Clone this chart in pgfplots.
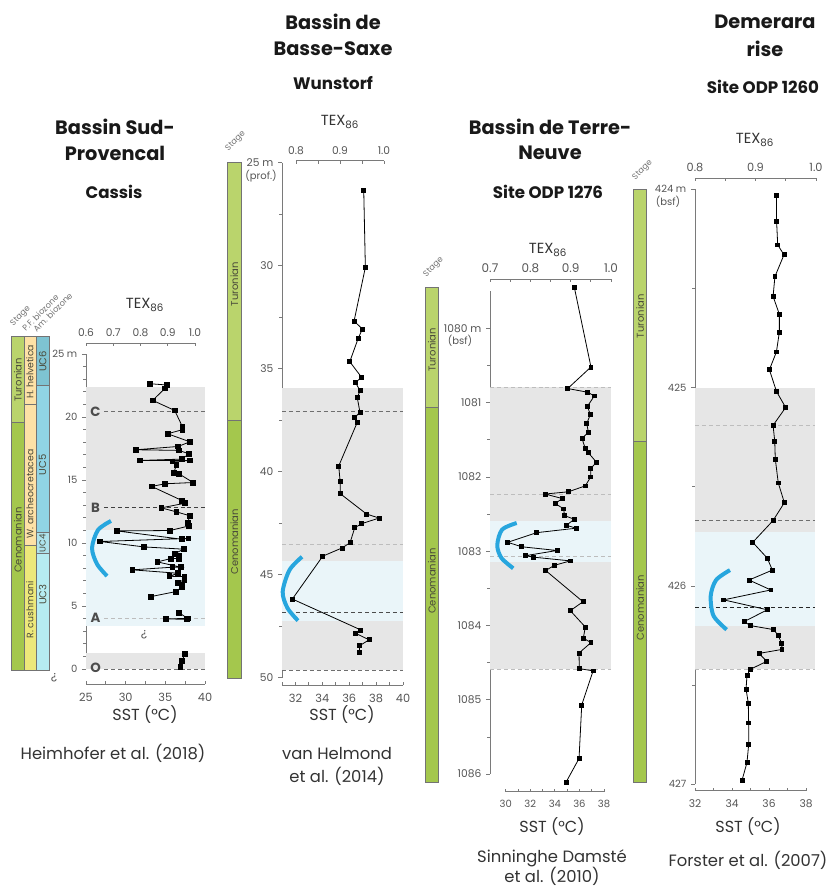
\documentclass[border=0pt]{standalone}
\usepackage{fontspec}
\setmainfont{Poppins}
\usepackage{pgfplots}
\pgfplotsset{compat=1.18}

\definecolor{gband}{HTML}{E6E6E6}
\definecolor{bband}{HTML}{EAF5F9}
\definecolor{arcblue}{HTML}{27A6DE}
\definecolor{turon}{HTML}{BAD46C}
\definecolor{cenom}{HTML}{A4C74D}
\definecolor{pfor}{HTML}{FDE1A6}
\definecolor{pfy}{HTML}{EDE87A}
\definecolor{ucsix}{HTML}{7EC3D2}
\definecolor{ucfive}{HTML}{90D4E4}
\definecolor{ucfour}{HTML}{AEE3EC}
\definecolor{ucthree}{HTML}{B6ECF1}
\definecolor{axgray}{HTML}{7A7A7A}
\definecolor{txgray}{HTML}{555555}
\definecolor{stagetx}{HTML}{4A4A3A}
\definecolor{dashdark}{HTML}{6E6E6E}
\definecolor{dashlight}{HTML}{BDBDBD}

\newcommand{\fs}[1]{\fontsize{#1pt}{#1pt}\selectfont}

\tikzset{
  stcol/.style={draw=black!55, line width=0.5pt},
  stlab/.style={rotate=90, text=stagetx, font=\fs{7.5}},
}
\pgfplotsset{
  base/.style={scale only axis, clip=false, anchor=north west,
    /pgf/number format/assume math mode=true,
    every tick/.append style={draw=axgray, line width=0.6pt},
    axis line style={draw=axgray, line width=0.75pt, -},
    ticklabel style={text=txgray}},
  dataax/.style={base, axis x line=none, axis y line*=left, tick align=outside,
    major tick length=3pt, minor tick length=2pt},
  texax/.style={base, axis y line=none, axis x line*=top, tick align=inside,
    major tick length=2.2pt, minor tick length=2.2pt, height=7.5pt, ymin=0, ymax=1,
    xticklabel style={yshift=1.5pt}},
  sstax/.style={base, anchor=south west, axis y line=none, axis x line*=bottom, tick align=inside,
    major tick length=2.2pt, minor tick length=2.2pt, height=7.5pt, ymin=0, ymax=1,
    xticklabel style={yshift=-3pt}},
  sdata/.style={black, line width=0.6pt, mark=square*, mark size=#1, mark options={solid, fill=black}},
  bluearc/.style={arcblue, line width=3pt, smooth, no marks},
}

\begin{document}
\begin{tikzpicture}
\useasboundingbox (0,0) rectangle (622.5pt,-666pt);

%================ Panel 1 : Cassis ================
\begin{axis}[dataax, at={(64.5pt,-265.5pt)}, width=89.25pt, height=236.25pt,
  xmin=25, xmax=40, ymin=0, ymax=25,
  ytick={0,5,10,15,20,25}, yticklabels={0,5,10,15,20,25 m},
  minor ytick={1,2,3,4,6,7,8,9,11,12,13,14,16,17,18,19,21,22,23,24},
  yticklabel style={font=\fs{7.5}}]
  % bands
  \fill[gband] (25,11.04) rectangle (40,22.4);
  \fill[bband] (25,3.42) rectangle (40,11.04);
  \fill[gband] (25,0) rectangle (40,1.25);
  % dashed levels
  \draw[dashdark, line width=0.7pt, dash pattern=on 3pt off 2.2pt] (27.3,20.4) -- (40,20.4);
  \draw[black!75, line width=0.7pt, dash pattern=on 3pt off 2.2pt] (27.3,12.8) -- (40,12.8);
  \draw[dashlight, line width=0.7pt, dash pattern=on 3pt off 2.2pt] (27.3,4.05) -- (40,4.05);
  \draw[dashdark, line width=0.7pt, dash pattern=on 3pt off 2.2pt] (27.3,0) -- (40,0);
  \node[font=\fs{10}\bfseries, text=black!70] at (26.2,20.4) {C};
  \node[font=\fs{10}\bfseries, text=black!70] at (26.2,12.8) {B};
  \node[font=\fs{10}\bfseries, text=black!70] at (26.2,4.05) {A};
  \node[font=\fs{10}\bfseries, text=black!70] at (26.2,0.1) {O};
  % stage columns
  \filldraw[stcol, fill=cenom] (15.63,-0.13) rectangle (17.18,19.55);
  \filldraw[stcol, fill=turon] (15.63,19.55) rectangle (17.18,26.37);
  \filldraw[stcol, fill=pfy] (17.18,-0.13) rectangle (18.70,9.84);
  \filldraw[stcol, fill=pfor] (17.18,9.84) rectangle (18.70,21.03);
  \filldraw[stcol, fill=pfor] (17.18,21.03) rectangle (18.70,26.37);
  \filldraw[stcol, fill=ucthree] (18.70,-0.13) rectangle (20.37,9.18);
  \filldraw[stcol, fill=ucfour] (18.70,9.18) rectangle (20.37,10.82);
  \filldraw[stcol, fill=ucfive] (18.70,10.82) rectangle (20.37,22.54);
  \filldraw[stcol, fill=ucsix] (18.70,22.54) rectangle (20.37,26.37);
  \node[stlab] at (16.41,22.94) {Turonian};
  \node[stlab] at (16.41,10.24) {Cenomanian};
  \node[stlab, font=\fs{7}] at (17.94,23.6) {H. helvetica};
  \node[stlab, font=\fs{7}] at (17.94,13.9) {W. archeocretacea};
  \node[stlab, font=\fs{7}] at (17.94,4.7) {R. cushmani};
  \node[stlab] at (19.53,24.4) {UC6};
  \node[stlab] at (19.53,16.2) {UC5};
  \node[stlab, font=\fs{6.5}] at (19.53,10.0) {UC4};
  \node[stlab] at (19.53,5.9) {UC3};
  % data
  \addplot[sdata=1.8pt] coordinates {
    (33.07,22.64) (35.17,22.54) (34.96,22.27) (33.4,21.32) (36.18,20.52)
    (37.14,19.25) (37.14,18.99) (35.29,18.67) (38.1,18.03) (36.6,17.66)
    (31.3,17.4) (36.7,17.35) (38.0,17.08) (37.06,16.66) (31.8,16.55)
    (38.1,16.55) (35.9,16.47) (36.4,16.2) (36.05,15.55) (36.72,15.49)
    (38.5,14.8) (34.96,14.7) (33.28,14.49) (37.1,13.37) (37.5,13.16)
    (34.5,12.79) (36.4,12.47) (38.1,12.16) (37.8,11.57) (38.0,11.36)
    (35.6,10.99) (28.9,10.96) (37.06,10.3) (37.9,10.36) (26.8,10.12)
    (32.3,9.69) (37.3,9.51) (36.2,9.16) (36.7,8.98) (36.76,8.77)
    (35.7,8.77) (34.0,8.5) (36.97,8.08) (35.9,8.08) (30.84,7.87)
    (36.6,7.6) (35.5,7.36) (37.4,7.33) (37.4,7.07) (36.55,6.86)
    (37.06,6.67) (37.06,6.49) (36.3,6.14) (33.2,5.75)};
  \addplot[sdata=1.8pt] coordinates {(36.7,4.48) (37.8,4.02) (35.1,3.97) (37.7,3.95)};
  \addplot[sdata=1.8pt] coordinates {(37.5,1.22) (37.1,0.66) (36.9,0.19)};
  \addplot[bluearc] coordinates {(28.15,11.75) (26.51,11.03) (25.76,9.60) (26.39,8.33) (27.65,7.38)};
\end{axis}
\begin{axis}[texax, at={(64.5pt,-257.25pt)}, width=81.75pt, xmin=0.6, xmax=1.0,
  xtick={0.6,0.7,0.8,0.9,1.0}, xticklabels={0.6,0.7,0.8,0.9,1.0},
  xticklabel style={font=\fs{8}}]
\end{axis}
\begin{axis}[sstax, at={(64.5pt,-513pt)}, width=89.25pt, xmin=25, xmax=40,
  xtick={25,30,35,40}, xticklabels={25,30,35,40}, minor xtick={27.5,32.5,37.5},
  xticklabel style={font=\fs{8.5}}]
\end{axis}

%================ Panel 2 : Wunstorf ================
\begin{axis}[dataax, at={(211.5pt,-122.03pt)}, width=90.75pt, height=386.25pt,
  xmin=31, xmax=40, ymin=25, ymax=50, y dir=reverse,
  ytick={25,30,35,40,45,50}, yticklabels={25 m,30,35,40,45,50},
  minor ytick={27.5,32.5,37.5,42.5,47.5},
  yticklabel style={font=\fs{8}}]
  \fill[gband] (31,35.92) rectangle (40,44.33);
  \fill[bband] (31,44.33) rectangle (40,47.23);
  \fill[gband] (31,47.23) rectangle (40,49.63);
  \draw[dashdark, line width=0.7pt, dash pattern=on 3pt off 2.2pt] (31,37.09) -- (40,37.09);
  \draw[dashlight, line width=0.7pt, dash pattern=on 3pt off 2.2pt] (31,43.54) -- (40,43.54);
  \draw[black!70, line width=0.7pt, dash pattern=on 3pt off 2.2pt] (31,46.84) -- (40,46.84);
  \draw[dashdark, line width=0.7pt, dash pattern=on 3pt off 2.2pt] (31,49.63) -- (40,49.63);
  \filldraw[stcol, fill=turon] (26.96,25) rectangle (27.95,37.52);
  \filldraw[stcol, fill=cenom] (26.96,37.52) rectangle (27.95,50.03);
  \node[stlab] at (27.45,30.9) {Turonian};
  \node[stlab] at (27.45,43.4) {Cenomanian};
  \addplot[sdata=1.5pt] coordinates {
    (37.08,26.36) (37.2,30.08) (36.36,32.69) (36.98,33.07) (36.66,33.54)
    (36.04,34.66) (36.9,35.40) (36.48,35.68) (36.8,36.07) (36.6,36.41)
    (36.8,37.12) (36.38,37.38) (36.6,37.60) (35.22,39.72) (35.32,40.45)
    (35.34,41.07) (37.28,42.05) (38.22,42.25) (36.93,42.52) (36.41,42.72)
    (36.06,43.45) (35.47,43.70) (34.03,44.10) (31.77,46.18) (36.86,47.68)
    (36.43,47.83) (37.48,48.16) (36.76,48.45) (36.76,48.77)};
  \addplot[bluearc] coordinates {(32.49,44.13) (31.56,44.77) (31.05,45.83) (31.41,46.62) (32.19,47.23)};
\end{axis}
\begin{axis}[texax, at={(222pt,-120.75pt)}, width=66pt, xmin=0.8, xmax=1.0,
  xtick={0.8,0.9,1.0}, xticklabels={0.8,0.9,1.0}, minor xtick={0.85,0.95},
  xticklabel style={font=\fs{8}}]
\end{axis}
\begin{axis}[sstax, at={(211.5pt,-513.75pt)}, width=90.75pt, xmin=31, xmax=40,
  xtick={32,34,36,38,40}, xticklabels={32,34,36,38,40}, minor xtick={31,33,35,37,39},
  xticklabel style={font=\fs{8.5}}]
\end{axis}

%================ Panel 3 : ODP 1276 ================
\begin{axis}[dataax, at={(367.5pt,-218.4pt)}, width=90.75pt, height=362.18pt,
  xmin=28.72, xmax=38.56, ymin=1079.5, ymax=1086, y dir=reverse,
  ytick={1080,1081,1082,1083,1084,1085,1086},
  yticklabels={1080 m,1081,1082,1083,1084,1085,1086},
  minor ytick={1080.5,1081.5,1082.5,1083.5,1084.5,1085.5},
  yticklabel style={font=\fs{8}}]
  \fill[gband] (28.72,1080.79) rectangle (38.56,1082.59);
  \fill[bband] (28.72,1082.59) rectangle (38.56,1083.15);
  \fill[gband] (28.72,1083.15) rectangle (38.56,1084.59);
  \draw[dashlight, line width=0.7pt, dash pattern=on 3pt off 2.2pt] (28.72,1080.79) -- (38.56,1080.79);
  \draw[dashlight, line width=0.7pt, dash pattern=on 3pt off 2.2pt] (28.72,1082.23) -- (38.56,1082.23);
  \draw[dashlight, line width=0.7pt, dash pattern=on 3pt off 2.2pt] (28.72,1083.07) -- (38.56,1083.07);
  \draw[dashlight, line width=0.7pt, dash pattern=on 3pt off 2.2pt] (28.72,1084.59) -- (38.56,1084.59);
  \filldraw[stcol, fill=turon] (23.44,1079.45) rectangle (24.52,1081.06);
  \filldraw[stcol, fill=cenom] (23.44,1081.06) rectangle (24.52,1086.11);
  \node[stlab] at (24.0,1080.29) {Turonian};
  \node[stlab] at (24.0,1083.4) {Cenomanian};
  \addplot[sdata=1.45pt] coordinates {
    (35.58,1079.45) (36.93,1080.52) (35.04,1080.81) (36.67,1080.86) (37.2,1080.91)
    (36.64,1081.05) (36.88,1081.16) (36.59,1081.28) (36.72,1081.40) (36.2,1081.48)
    (36.47,1081.62) (36.69,1081.67) (37.37,1081.80) (36.91,1081.89) (36.91,1082.0)
    (36.47,1082.12) (35.09,1082.20) (33.2,1082.23) (34.58,1082.29) (34.03,1082.36)
    (34.72,1082.43) (34.77,1082.52) (35.58,1082.57) (34.93,1082.65) (35.72,1082.69)
    (32.52,1082.75) (30.16,1082.88) (31.3,1082.94) (34.17,1082.99) (31.6,1083.06)
    (32.28,1083.08) (35.25,1083.13) (33.95,1083.19) (33.25,1083.26) (36.28,1083.68)
    (35.25,1083.80) (36.47,1084.02) (36.31,1084.17) (36.93,1084.23) (35.96,1084.37)
    (35.98,1084.58) (37.1,1084.61) (36.18,1085.07) (35.96,1085.79) (34.9,1086.11)};
  \addplot[bluearc] coordinates {(30.89,1082.62) (29.70,1082.71) (29.31,1082.92) (29.65,1083.09) (30.61,1083.23)};
\end{axis}
\begin{axis}[texax, at={(367.5pt,-209.48pt)}, width=90.75pt, xmin=0.7, xmax=1.0,
  xtick={0.7,0.8,0.9,1.0}, xticklabels={0.7,0.8,0.9,1.0}, minor xtick={0.75,0.85,0.95},
  xticklabel style={font=\fs{9}}]
\end{axis}
\begin{axis}[sstax, at={(379.28pt,-593.78pt)}, width=73.73pt, xmin=30, xmax=38,
  xtick={30,32,34,36,38}, xticklabels={30,32,34,36,38}, minor xtick={31,33,35,37},
  xticklabel style={font=\fs{7.5}}]
\end{axis}

%================ Panel 4 : ODP 1260 ================
\begin{axis}[dataax, at={(521.25pt,-141.98pt)}, width=90.19pt, height=446.25pt,
  xmin=32, xmax=38.5, ymin=424, ymax=427, y dir=reverse,
  ytick={424,425,426,427}, yticklabels={424 m,425,426,427},
  minor ytick={424.5,425.5,426.5},
  yticklabel style={font=\fs{7.5}}]
  \fill[gband] (32,425) rectangle (38.5,425.73);
  \fill[bband] (32,425.73) rectangle (38.5,426.20);
  \fill[gband] (32,426.20) rectangle (38.5,426.42);
  \draw[dashlight, line width=0.7pt, dash pattern=on 3pt off 2.2pt] (32,425.19) -- (38.5,425.19);
  \draw[dashdark, line width=1pt, dash pattern=on 3pt off 2.2pt] (32,425.67) -- (38.5,425.67);
  \draw[black!85, line width=0.7pt, dash pattern=on 3pt off 2.2pt] (32,426.11) -- (38.5,426.11);
  \draw[dashlight, line width=0.7pt, dash pattern=on 3pt off 2.2pt] (32,426.42) -- (38.5,426.42);
  \filldraw[stcol, fill=turon] (28.66,424.0) rectangle (29.39,425.27);
  \filldraw[stcol, fill=cenom] (28.66,425.27) rectangle (29.39,426.99);
  \node[stlab] at (29.03,424.64) {Turonian};
  \node[stlab] at (29.03,426.11) {Cenomanian};
  \addplot[sdata=1.45pt] coordinates {
    (36.4,424.03) (36.41,424.16) (36.47,424.28) (36.81,424.33) (36.32,424.44)
    (36.22,424.54) (36.56,424.63) (36.56,424.72) (36.4,424.82) (36.02,424.91)
    (36.41,425.02) (36.9,425.10) (36.22,425.19) (36.31,425.27) (36.34,425.36)
    (36.5,425.48) (36.83,425.58) (36.22,425.67) (35.12,425.78) (35.91,425.86)
    (36.18,425.92) (34.92,425.97) (36.1,426.02) (33.55,426.07) (35.91,426.12)
    (34.65,426.18) (35.01,426.20) (36.25,426.22) (36.5,426.25) (36.69,426.29)
    (36.7,426.32) (35.46,426.34) (35.88,426.38) (34.99,426.42) (34.81,426.45)
    (34.76,426.52) (34.88,426.59) (34.9,426.69) (34.9,426.80) (34.81,426.89)
    (34.54,426.98)};
  \addplot[bluearc] coordinates {(33.89,425.92) (33.14,425.97) (32.85,426.05) (33.0,426.15) (33.71,426.22)};
\end{axis}
\begin{axis}[texax, at={(521.25pt,-133.73pt)}, width=90.75pt, xmin=0.8, xmax=1.0,
  xtick={0.8,0.9,1.0}, xticklabels={0.8,0.9,1.0}, minor xtick={0.85,0.95},
  xticklabel style={font=\fs{8.5}}]
\end{axis}
\begin{axis}[sstax, at={(521.25pt,-593.03pt)}, width=83.25pt, xmin=32, xmax=38,
  xtick={32,34,36,38}, xticklabels={32,34,36,38}, minor xtick={33,35,37},
  xticklabel style={font=\fs{8}}]
\end{axis}

%================ Text annotations (pixel grid) ================
\begin{scope}[x=0.75pt, y=-0.75pt]
  \tikzset{title/.style={font=\fs{14.5}\bfseries, text=black!90},
           sub/.style={font=\fs{12.5}\bfseries, text=black!90},
           tex/.style={font=\fs{11}, text=black!80},
           sst/.style={font=\fs{12}, text=black!80},
           ref/.style={font=\fs{12.3}, text=black!80, inner sep=0pt},
           unit/.style={font=\fs{7.5}, text=txgray},
           hdr/.style={font=\fs{6.2}, text=black!55, rotate=45, anchor=south west, inner sep=0pt}}
  % titles
  \node[title] at (115,127) {Bassin Sud-};
  \node[title] at (115,153) {Provencal};
  \node[sub] at (114,192) {Cassis};
  \node[title] at (333,22) {Bassin de};
  \node[title] at (333,49) {Basse-Saxe};
  \node[sub] at (333,83) {Wunstorf};
  \node[title] at (550,127) {Bassin de Terre-};
  \node[title] at (550,153) {Neuve};
  \node[sub] at (548,192) {Site ODP 1276};
  \node[title] at (765,22) {Demerara};
  \node[title] at (765,49) {rise};
  \node[sub] at (763,87) {Site ODP 1260};
  % TEX86
  \node[tex] at (145,305) {TEX\textsubscript{86}};
  \node[tex] at (340,122) {TEX\textsubscript{86}};
  \node[tex] at (548,250) {TEX\textsubscript{86}};
  \node[tex] at (755,140) {TEX\textsubscript{86}};
  % SST labels
  \node[sst] at (145,715) {SST (°C)};
  \node[sst] at (342,715) {SST (°C)};
  \node[sst] at (552,827) {SST (°C)};
  \node[sst] at (748,827) {SST (°C)};
  % references
  \node[ref] at (113,753) {Heimhofer et al. (2018)};
  \node[ref] at (337,753) {van Helmond};
  \node[ref] at (337,776) {et al. (2014)};
  \node[ref] at (552,858) {Sinninghe Damsté};
  \node[ref] at (552,876) {et al. (2010)};
  \node[ref] at (748,860) {Forster et al. (2007)};
  % second line of depth units
  \node[unit] at (261,176) {(prof.)};
  \node[unit] at (460,341) {(bsf)};
  \node[unit] at (668,202) {(bsf)};
  % column headers
  \node[hdr] at (15,328) {Stage};
  \node[hdr] at (26,332) {P.F. biozone};
  \node[hdr] at (37,333) {Am. biozone};
  \node[hdr] at (230,153) {Stage};
  \node[hdr] at (428,279) {Stage};
  \node[hdr] at (637,182) {Stage};
  % question marks
  \node[font=\fs{9}, text=txgray, rotate=180] at (144,635) {?};
  \node[font=\fs{9}, text=txgray, rotate=180] at (54,678) {?};
\end{scope}
\end{tikzpicture}
\end{document}
